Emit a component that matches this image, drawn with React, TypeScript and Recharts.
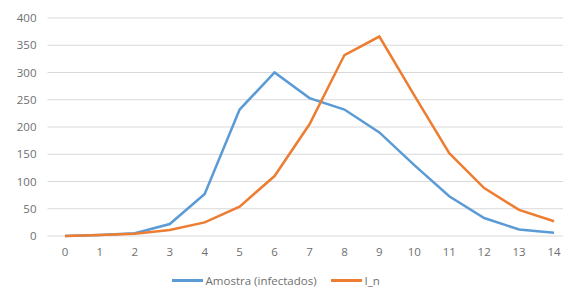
import React from 'react';
import { LineChart, Line, XAxis, YAxis, CartesianGrid, Legend } from 'recharts';

const days = [0, 1, 2, 3, 4, 5, 6, 7, 8, 9, 10, 11, 12, 13, 14];
const amostra = [0, 2, 5, 22, 77, 232, 300, 253, 232, 190, 130, 73, 33, 12, 6];
const iN = [0, 2, 4, 11, 25, 54, 110, 205, 332, 366, 258, 152, 88, 48, 27];
const yTicks = [0, 50, 100, 150, 200, 250, 300, 350, 400];

const data = days.map((d, i) => ({ x: d, amostra: amostra[i], iN: iN[i] }));

const BLUE = '#5b9bd5';
const ORANGE = '#ed7d31';
const TEXT = '#6f6f6f';

const LegendContent = () => (
  <div style={{ display: 'flex', justifyContent: 'center', alignItems: 'center', paddingTop: 9, paddingRight: 20, fontSize: 11.5, color: TEXT, fontFamily: 'Open Sans' }}>
    <span style={{ display: 'inline-block', width: 31, height: 3, background: BLUE, marginRight: 3 }} />
    <span style={{ marginRight: 14 }}>Amostra (infectados)</span>
    <span style={{ display: 'inline-block', width: 31, height: 3, background: ORANGE, marginRight: 3 }} />
    <span>I_n</span>
  </div>
);

export default function App() {
  return (
    <div style={{ position: 'absolute', left: 0, top: 0, width: 563, height: 295, overflow: 'hidden', background: '#fff' }}>
      <LineChart width={580} height={295} data={data} margin={{ top: 18, right: 8.5, left: 0, bottom: 0 }}>
        <CartesianGrid horizontal vertical={false} stroke="#d9d9d9" strokeWidth={1.2} />
        <XAxis
          dataKey="x"
          type="number"
          domain={[-0.5, 14.5]}
          ticks={days}
          axisLine={false}
          tickLine={false}
          tickSize={0}
          tickMargin={12}
          height={28}
          tick={{ fill: TEXT, fontSize: 11.5, fontFamily: 'Open Sans' }}
        />
        <YAxis
          domain={[0, 400]}
          ticks={yTicks}
          axisLine={false}
          tickLine={false}
          tickSize={0}
          tickMargin={11}
          width={47.5}
          tick={{ fill: TEXT, fontSize: 11.5, fontFamily: 'Open Sans' }}
        />
        <Legend verticalAlign="bottom" height={31} content={<LegendContent />} />
        <Line type="linear" dataKey="amostra" name="Amostra (infectados)" stroke={BLUE} strokeWidth={2.5} dot={false} isAnimationActive={false} />
        <Line type="linear" dataKey="iN" name="I_n" stroke={ORANGE} strokeWidth={2.5} dot={false} isAnimationActive={false} />
      </LineChart>
    </div>
  );
}
